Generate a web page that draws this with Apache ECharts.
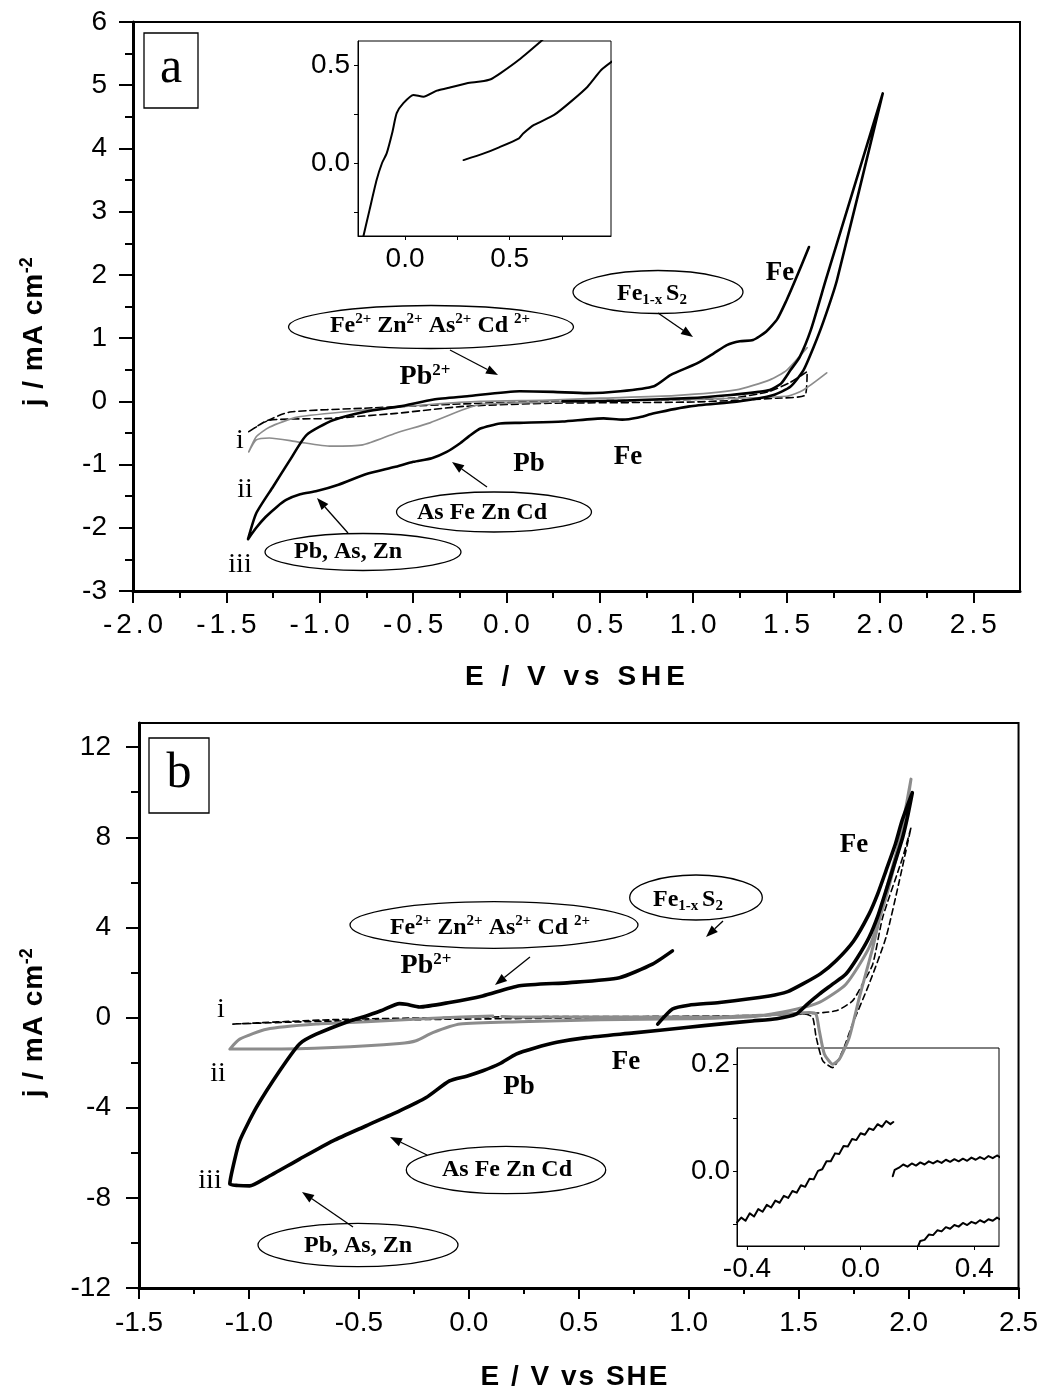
<!DOCTYPE html>
<html>
<head>
<meta charset="utf-8">
<script src="https://cdn.jsdelivr.net/npm/echarts@6/dist/echarts.min.js"></script>
<style>
html,body{margin:0;padding:0;background:#fff}
#chart{width:1041px;height:1393px}
</style>
</head>
<body>
<div id="chart"></div>
<script>
// ---------- tick values ----------
const aXTicks = [-2, -1.5, -1, -0.5, 0, 0.5, 1, 1.5, 2, 2.5];
const aXMinor = [-1.75, -1.25, -0.75, -0.25, 0.25, 0.75, 1.25, 1.75, 2.25];
const aYTicks = [-3, -2, -1, 0, 1, 2, 3, 4, 5, 6];
const aYMinor = [-2.5, -1.5, -0.5, 0.5, 1.5, 2.5, 3.5, 4.5, 5.5];
const aInXLabels = [0, 0.5];
const aInXTicks = [0, 0.25, 0.5, 0.75];
const aInYLabels = [0, 0.5];
const aInYTicks = [-0.25, 0, 0.25, 0.5];

const bXTicks = [-1.5, -1, -0.5, 0, 0.5, 1, 1.5, 2, 2.5];
const bXMinor = [-1.25, -0.75, -0.25, 0.25, 0.75, 1.25, 1.75, 2.25];
const bYTicks = [-12, -8, -4, 0, 4, 8, 12];
const bYMinor = [-10, -6, -2, 2, 6, 10];
const bInXLabels = [-0.4, 0, 0.4];
const bInXTicks = [-0.4, -0.2, 0, 0.2, 0.4];
const bInYLabels = [0, 0.2];
const bInYTicks = [-0.1, 0, 0.1, 0.2];

// ---------- panel a : voltammograms [E (V vs SHE), j (mA cm-2)] ----------
const aCurveI = [[-1.38,-0.48],[-1.30,-0.33],[-1.16,-0.17],[-0.77,-0.11],[-0.23,-0.04],[0.23,0.0],[0.8,0.02],[1.2,0.05],[1.4,0.15],[1.52,0.3],[1.61,0.47],[1.60,0.10],[1.45,0.05],[1.0,-0.01],[0.23,-0.03],[-0.23,-0.08],[-0.59,-0.19],[-0.94,-0.27],[-1.27,-0.30],[-1.38,-0.48]];
const aCurveII = [[1.61,0.85],[1.5,0.49],[1.41,0.34],[1.23,0.18],[0.9,0.09],[0.5,0.05],[0.23,0.02],[-0.14,0.0],[-0.41,-0.05],[-0.77,-0.14],[-1.12,-0.25],[-1.27,-0.41],[-1.34,-0.56],[-1.38,-0.80],[-1.34,-0.61],[-1.27,-0.58],[-1.12,-0.64],[-0.94,-0.71],[-0.77,-0.69],[-0.59,-0.50],[-0.41,-0.34],[-0.23,-0.13],[-0.14,-0.05],[0.13,-0.02],[0.97,0.03],[1.5,0.08],[1.59,0.18],[1.715,0.45]];
const aCurveIII = [[0.30,0.00],[0.60,0.01],[0.98,0.05],[1.20,0.10],[1.35,0.15],[1.41,0.18],[1.47,0.28],[1.52,0.49],[1.57,0.70],[1.63,1.13],[1.71,1.92],[2.015,4.87],
  [1.77,1.92],[1.70,1.285],[1.645,0.86],[1.59,0.49],[1.52,0.23],[1.43,0.10],[1.25,0.0],[0.98,-0.08],[0.79,-0.19],[0.70,-0.26],[0.62,-0.29],[0.52,-0.27],[0.30,-0.32],[0.07,-0.34],[-0.034,-0.35],[-0.14,-0.43],[-0.20,-0.55],[-0.25,-0.667],[-0.32,-0.80],[-0.40,-0.90],[-0.499,-0.957],[-0.6,-1.04],[-0.75,-1.15],[-0.9,-1.32],[-1.016,-1.42],[-1.105,-1.47],[-1.18,-1.56],[-1.23,-1.67],[-1.29,-1.83],[-1.34,-2.0],[-1.384,-2.18],
  [-1.34,-1.77],[-1.25,-1.35],[-1.16,-0.93],[-1.07,-0.53],[-0.93,-0.30],[-0.75,-0.16],[-0.57,-0.08],[-0.39,0.03],[-0.21,0.08],[0.07,0.16],[0.25,0.15],[0.43,0.13],[0.61,0.16],[0.79,0.24],[0.88,0.42],[1.02,0.60],[1.11,0.76],[1.18,0.89],[1.25,0.95],[1.32,0.97],[1.39,1.10],[1.45,1.30],[1.50,1.60],[1.54,1.87],[1.62,2.44]];
const aInsetUpper = [[-0.205,-0.40],[-0.17,-0.24],[-0.136,-0.087],[-0.11,0.0],[-0.088,0.049],[-0.06,0.16],[-0.04,0.254],[-0.008,0.305],[0.04,0.347],[0.088,0.338],[0.152,0.369],[0.2,0.381],[0.296,0.407],[0.36,0.415],[0.41,0.427],[0.457,0.458],[0.545,0.526],[0.649,0.62],[0.67,0.64]];
const aInsetLower = [[0.28,0.015],[0.377,0.049],[0.45,0.08],[0.545,0.126],[0.565,0.15],[0.617,0.194],[0.713,0.245],[0.793,0.313],[0.873,0.389],[0.938,0.474],[0.989,0.517]];

// ---------- panel b ----------
const bCurveI = [[-1.073,-0.29],[-0.618,-0.09],[0.139,0.03],[0.8,0.05],[1.2,0.08],[1.503,0.15],[1.67,0.3],[1.745,0.74],[1.79,1.48],[1.837,2.37],[1.882,4.44],[1.973,7.1],[2.011,8.43],[1.958,6.07],[1.897,3.55],[1.82,1.48],[1.745,-0.29],[1.70,-1.48],[1.655,-2.22],[1.61,-1.92],[1.58,-0.89],[1.564,0.0],[1.534,0.15],[1.2,0.02],[0.5,-0.02],[-0.3,-0.1],[-0.8,-0.2],[-1.073,-0.29]];
const bCurveII = [[0.109,0.07],[-0.164,-0.03],[-0.466,-0.19],[-0.694,-0.29],[-0.92,-0.52],[-1.042,-0.96],[-1.087,-1.4],[-0.92,-1.4],[-0.618,-1.33],[-0.315,-1.15],[-0.24,-1.03],[-0.164,-0.67],[-0.04,-0.29],[0.23,-0.19],[0.6,-0.1],[1.0,-0.05],[1.3,0.05],[1.488,0.37],[1.594,0.67],[1.715,1.48],[1.82,3.1],[1.897,5.32],[1.973,8.28],[2.011,10.58],[1.958,7.84],[1.897,5.62],[1.837,3.1],[1.776,0.89],[1.73,-0.89],[1.685,-1.85],[1.655,-2.07],[1.617,-1.62],[1.594,-0.59],[1.579,0.15],[1.549,0.22],[1.443,0.15],[1.14,0.03],[0.6,0.02],[0.23,0.02],[0.15,0.05]];
const bCurveIII = [[0.859,-0.29],[0.926,0.38],[1.0,0.55],[1.14,0.67],[1.367,0.96],[1.45,1.15],[1.517,1.48],[1.6,1.95],[1.67,2.52],[1.75,3.4],[1.82,4.59],[1.86,5.5],[1.897,6.51],[1.94,7.7],[1.97,8.73],[2.017,9.98],
  [1.995,8.9],[1.973,7.99],[1.935,6.8],[1.897,5.62],[1.86,4.5],[1.82,3.55],[1.77,2.7],[1.715,1.93],[1.65,1.45],[1.594,1.04],[1.54,0.6],[1.488,0.15],[1.40,-0.05],[1.29,-0.15],[1.15,-0.28],[0.988,-0.44],[0.75,-0.68],[0.534,-0.89],[0.40,-1.1],[0.30,-1.35],[0.215,-1.62],[0.14,-2.05],[0.064,-2.36],[-0.01,-2.6],[-0.088,-2.81],[-0.194,-3.55],[-0.315,-4.14],[-0.466,-4.8],[-0.618,-5.47],[-0.77,-6.28],[-0.92,-7.1],[-0.997,-7.47],[-1.05,-7.45],[-1.087,-7.39],
  [-1.073,-6.65],[-1.042,-5.47],[-0.966,-3.99],[-0.86,-2.36],[-0.77,-1.17],[-0.694,-0.74],[-0.542,-0.15],[-0.466,0.07],[-0.4,0.3],[-0.315,0.62],[-0.285,0.59],[-0.224,0.47],[-0.088,0.67],[0.063,0.96],[0.23,1.41],[0.458,1.55],[0.685,1.77],[0.835,2.37],[0.926,2.96]];
const bInsetA = [[-0.435,-0.097],[-0.420,-0.088],[-0.405,-0.094],[-0.390,-0.080],[-0.375,-0.086],[-0.360,-0.072],[-0.345,-0.077],[-0.330,-0.064],[-0.315,-0.069],[-0.300,-0.056],[-0.285,-0.060],[-0.270,-0.047],[-0.255,-0.051],[-0.240,-0.038],[-0.225,-0.041],[-0.210,-0.027],[-0.195,-0.030],[-0.180,-0.015],[-0.165,-0.016],[-0.150,0.000],[-0.135,0.003],[-0.120,0.018],[-0.105,0.018],[-0.090,0.033],[-0.075,0.032],[-0.060,0.047],[-0.045,0.046],[-0.030,0.060],[-0.015,0.058],[0.000,0.071],[0.015,0.068],[0.030,0.080],[0.045,0.077],[0.060,0.088],[0.075,0.083],[0.090,0.094],[0.105,0.088],[0.115,0.092]];
const bInsetB = [[0.113,-0.010],[0.120,0.002],[0.135,0.006],[0.150,0.012],[0.165,0.008],[0.180,0.014],[0.195,0.010],[0.210,0.016],[0.225,0.012],[0.240,0.018],[0.255,0.014],[0.270,0.019],[0.285,0.015],[0.300,0.021],[0.315,0.017],[0.330,0.022],[0.345,0.018],[0.360,0.023],[0.375,0.019],[0.390,0.025],[0.405,0.021],[0.420,0.026],[0.435,0.022],[0.450,0.028],[0.465,0.024],[0.480,0.029],[0.490,0.026]];
const bInsetC = [[0.200,-0.145],[0.210,-0.132],[0.225,-0.130],[0.240,-0.120],[0.255,-0.121],[0.270,-0.112],[0.285,-0.114],[0.300,-0.106],[0.315,-0.109],[0.330,-0.102],[0.345,-0.105],[0.360,-0.098],[0.375,-0.102],[0.390,-0.096],[0.405,-0.099],[0.420,-0.093],[0.435,-0.097],[0.450,-0.091],[0.465,-0.094],[0.480,-0.088],[0.490,-0.091]];

// ---------- styling helpers ----------
const SANS = '"Liberation Sans", Arial, sans-serif';
const SERIF = '"Liberation Serif", "Times New Roman", serif';
const fmt1 = v => v.toFixed(1);
const fmt0 = v => String(Math.round(v));
// spaced-out characters (each glyph is its own rich token with side padding)
const spaced = (s, tok) => s.split('').map(ch => '{' + tok + '|' + ch + '}').join('');
const fmt1Spaced = v => spaced(v.toFixed(1), 'c');

function labelAxis(kind, grid, min, max, labels, ticks, o) {
  return {
    gridIndex: grid, type: 'value', min: min, max: max,
    position: kind === 'x' ? 'bottom' : 'left',
    axisLine: { show: true, onZero: false, lineStyle: { color: '#000', width: o.lw } },
    axisTick: { show: true, inside: false, customValues: ticks, length: o.tl, lineStyle: { color: '#000', width: o.tw } },
    axisLabel: { show: true, customValues: labels, formatter: o.fmt, margin: o.margin,
                 fontSize: 28, fontFamily: SANS, color: '#000',
                 rich: o.rich || undefined },
    splitLine: { show: false }
  };
}
function minorAxis(kind, grid, min, max, ticks, len, w) {
  return {
    gridIndex: grid, type: 'value', min: min, max: max,
    position: kind === 'x' ? 'bottom' : 'left',
    axisLine: { show: false, onZero: false },
    axisTick: { show: true, inside: false, customValues: ticks, length: len, lineStyle: { color: '#000', width: w } },
    axisLabel: { show: false },
    splitLine: { show: false }
  };
}
function curve(name, data, xi, yi, color, width, type, smooth) {
  return {
    name: name, type: 'line', data: data, xAxisIndex: xi, yAxisIndex: yi,
    showSymbol: false, symbol: 'none', smooth: smooth, clip: true, silent: true,
    lineStyle: { color: color, width: width, type: type, cap: 'round', join: 'round' }
  };
}

// ---------- annotation helpers ----------
function arrow(x1, y1, x2, y2) {
  const a = Math.atan2(y2 - y1, x2 - x1), L = 12, W = 4.5;
  const bx = x2 - L * Math.cos(a), by = y2 - L * Math.sin(a);
  const px = -Math.sin(a) * W, py = Math.cos(a) * W;
  return [
    { type: 'line', shape: { x1: x1, y1: y1, x2: bx, y2: by }, style: { stroke: '#000', lineWidth: 1.3 } },
    { type: 'polygon', shape: { points: [[x2, y2], [bx + px, by + py], [bx - px, by - py]] }, style: { fill: '#000' } }
  ];
}
function oval(cx, cy, rx, ry) {
  return { type: 'ellipse', shape: { cx: cx, cy: cy, rx: rx, ry: ry }, style: { fill: 'none', stroke: '#000', lineWidth: 1.3 } };
}
const richSerif = {
  b: { fontFamily: SERIF, fontWeight: 'bold', fontSize: 24, lineHeight: 28, fill: '#000' },
  B: { fontFamily: SERIF, fontWeight: 'bold', fontSize: 28, lineHeight: 30, fill: '#000' },
  sup: { fontFamily: SERIF, fontWeight: 'bold', fontSize: 15, lineHeight: 16, verticalAlign: 'top', fill: '#000' },
  SUP: { fontFamily: SERIF, fontWeight: 'bold', fontSize: 17, lineHeight: 17, verticalAlign: 'top', fill: '#000' },
  sub: { fontFamily: SERIF, fontWeight: 'bold', fontSize: 15, lineHeight: 16, verticalAlign: 'bottom', fill: '#000' }
};
function rtext(x, y, text) {
  return { type: 'text', x: x, y: y, style: { text: text, align: 'center', verticalAlign: 'middle', rich: richSerif } };
}
function plain(x, y, text, size, weight, family) {
  return { type: 'text', x: x, y: y, style: { text: text, align: 'center', verticalAlign: 'middle',
           fontFamily: family, fontSize: size, fontWeight: weight, fill: '#000' } };
}
function xtitle(x, y, pad) {
  return { type: 'text', x: x, y: y,
    style: { text: spaced('E / V vs SHE', 't'), align: 'center', verticalAlign: 'middle',
      rich: { t: { fontFamily: SANS, fontWeight: 'bold', fontSize: 28, lineHeight: 30, padding: [0, pad, 0, pad], fill: '#000' } } } };
}
function ytitle(x, y) {
  return { type: 'text', x: x, y: y, rotation: Math.PI / 2,
    style: { text: spaced('j / mA cm', 'm') + '{s|-2}', align: 'center', verticalAlign: 'middle',
      rich: { m: { fontFamily: SANS, fontWeight: 'bold', fontSize: 28, lineHeight: 32, padding: [0, 0.5, 0, 0.5], fill: '#000' },
              s: { fontFamily: SANS, fontWeight: 'bold', fontSize: 18, lineHeight: 19, verticalAlign: 'top', fill: '#000' } } } };
}
function boxLabel(x, y, w, h, letter) {
  return [
    { type: 'rect', shape: { x: x, y: y, width: w, height: h }, style: { fill: '#fff', stroke: '#000', lineWidth: 1.3 } },
    plain(x + w / 2, y + h / 2 - 2, letter, 50, 'normal', SERIF)
  ];
}

const elements = [].concat(
  // panel a
  boxLabel(144, 33, 54, 75, 'a'),
  [ytitle(34, 332), xtitle(575, 677, 2.5)],
  [oval(658, 292, 85, 21.5), rtext(652, 294, '{b|Fe}{sub|1-x }{b|S}{sub|2}')],
  arrow(658, 313, 693, 337),
  [oval(431, 327, 142.5, 21.5), rtext(430, 326, '{b|Fe}{sup|2+}{b| Zn}{sup|2+}{b| As}{sup|2+}{b| Cd }{sup|2+}')],
  arrow(450, 350, 498, 375),
  [rtext(425, 377, '{B|Pb}{SUP|2+}')],
  [plain(780, 273, 'Fe', 27, 'bold', SERIF), plain(529, 464, 'Pb', 27, 'bold', SERIF), plain(628, 457, 'Fe', 27, 'bold', SERIF)],
  [oval(494, 512, 97.5, 20), plain(482, 513, 'As Fe Zn Cd', 24, 'bold', SERIF)],
  arrow(487, 487, 452, 462),
  [oval(363, 552, 98, 18.5), plain(348, 552, 'Pb, As, Zn', 24, 'bold', SERIF)],
  arrow(348, 533, 317, 498),
  [plain(240, 441, 'i', 28, 'normal', SERIF), plain(245, 490, 'ii', 28, 'normal', SERIF), plain(240, 565, 'iii', 28, 'normal', SERIF)],
  // panel b
  boxLabel(149, 738, 60, 75, 'b'),
  [ytitle(34, 1023), xtitle(574, 1377, 1)],
  [oval(494, 925, 144, 23.3), rtext(490, 928, '{b|Fe}{sup|2+}{b| Zn}{sup|2+}{b| As}{sup|2+}{b| Cd }{sup|2+}')],
  arrow(530, 957, 495, 985),
  [rtext(426, 966, '{B|Pb}{SUP|2+}')],
  [oval(696, 897.5, 66.3, 22.5), rtext(688, 900, '{b|Fe}{sub|1-x }{b|S}{sub|2}')],
  arrow(723, 921, 706, 937),
  [plain(854, 845, 'Fe', 27, 'bold', SERIF), plain(626, 1062, 'Fe', 27, 'bold', SERIF), plain(519, 1087, 'Pb', 27, 'bold', SERIF)],
  [oval(506, 1170, 99.7, 23.7), plain(507, 1170, 'As Fe Zn Cd', 24, 'bold', SERIF)],
  arrow(427, 1155, 390, 1137),
  [oval(358, 1245, 100, 21.7), plain(358, 1246, 'Pb, As, Zn', 24, 'bold', SERIF)],
  arrow(353, 1227, 302, 1192),
  [plain(221, 1010, 'i', 28, 'normal', SERIF), plain(218, 1074, 'ii', 28, 'normal', SERIF), plain(210, 1181, 'iii', 28, 'normal', SERIF)]
);

const mainA = { lw: 3, tl: 12, tw: 2, margin: 20, fmt: fmt1Spaced,
                rich: { c: { fontSize: 28, fontFamily: SANS, color: '#000', padding: [0, 2, 0, 2] } } };
const mainAY = { lw: 3, tl: 14, tw: 2, margin: 26, fmt: fmt0 };
const mainB = { lw: 3, tl: 11, tw: 2, margin: 21, fmt: fmt1 };
const mainBY = { lw: 3, tl: 13, tw: 2, margin: 28, fmt: fmt0 };
const inset = (fmt, margin) => ({ lw: 1, tl: 4, tw: 1, margin: margin, fmt: fmt });

const option = {
  animation: false,
  backgroundColor: '#fff',
  grid: [
    { left: 133, top: 22, width: 887, height: 569, show: true, borderColor: '#000', borderWidth: 2, backgroundColor: 'transparent' },
    { left: 358, top: 41, width: 253, height: 195, show: true, borderColor: '#000', borderWidth: 1, backgroundColor: 'transparent' },
    { left: 139, top: 723, width: 880, height: 565, show: true, borderColor: '#000', borderWidth: 2, backgroundColor: 'transparent' },
    { left: 737, top: 1048, width: 262, height: 198, show: true, borderColor: '#000', borderWidth: 1, backgroundColor: 'transparent' }
  ],
  xAxis: [
    labelAxis('x', 0, -2, 2.75, aXTicks, aXTicks, mainA),
    minorAxis('x', 0, -2, 2.75, aXMinor, 7, 2),
    labelAxis('x', 1, -0.225, 0.985, aInXLabels, aInXTicks, inset(fmt1, 9)),
    labelAxis('x', 2, -1.5, 2.5, bXTicks, bXTicks, mainB),
    minorAxis('x', 2, -1.5, 2.5, bXMinor, 6, 2),
    labelAxis('x', 3, -0.435, 0.487, bInXLabels, bInXTicks, inset(fmt1, 9))
  ],
  yAxis: [
    labelAxis('y', 0, -3, 6, aYTicks, aYTicks, mainAY),
    minorAxis('y', 0, -3, 6, aYMinor, 8, 2),
    labelAxis('y', 1, -0.372, 0.622, aInYLabels, aInYTicks, inset(fmt1, 8)),
    labelAxis('y', 2, -12, 13.07, bYTicks, bYTicks, mainBY),
    minorAxis('y', 2, -12, 13.07, bYMinor, 8, 2),
    labelAxis('y', 3, -0.1415, 0.2315, bInYLabels, bInYTicks, inset(fmt1, 7))
  ],
  series: [
    curve('a-i', aCurveI, 0, 0, '#000', 1.6, [7, 4], 0.2),
    curve('a-ii', aCurveII, 0, 0, '#8c8c8c', 1.7, 'solid', 0.2),
    curve('a-iii', aCurveIII, 0, 0, '#000', 2.6, 'solid', 0.2),
    curve('a-inset-1', aInsetUpper, 2, 2, '#000', 2, 'solid', 0.2),
    curve('a-inset-2', aInsetLower, 2, 2, '#000', 2, 'solid', 0.2),
    curve('b-i', bCurveI, 3, 3, '#000', 1.6, [6, 4], 0.2),
    curve('b-ii', bCurveII, 3, 3, '#8c8c8c', 3, 'solid', 0.2),
    curve('b-iii', bCurveIII, 3, 3, '#000', 3.6, 'solid', 0.2),
    curve('b-inset-1', bInsetA, 5, 5, '#000', 2, 'solid', false),
    curve('b-inset-2', bInsetB, 5, 5, '#000', 2, 'solid', false),
    curve('b-inset-3', bInsetC, 5, 5, '#000', 2, 'solid', false)
  ],
  graphic: { elements: elements }
};

const chart = echarts.init(document.getElementById('chart'), null, { renderer: 'canvas' });
chart.setOption(option);
</script>
</body>
</html>
